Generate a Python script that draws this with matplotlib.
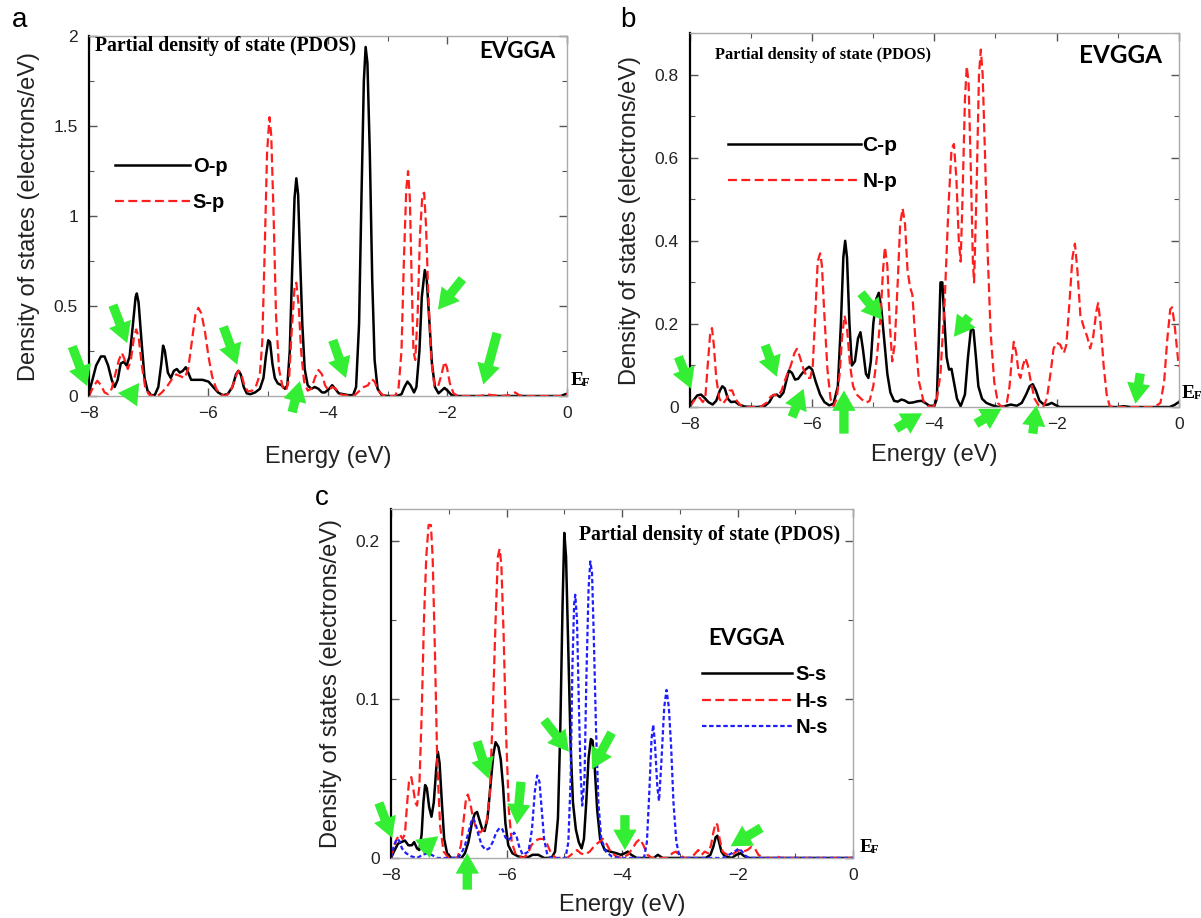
import numpy as np
import matplotlib
matplotlib.use("Agg")
import matplotlib.pyplot as plt
from matplotlib.ticker import MultipleLocator, FuncFormatter

plt.rcParams["font.family"] = ["Liberation Sans", "DejaVu Sans"]

# ---------------- panel a : O-p / S-p ----------------
a_op_e = [-8.00, -7.95, -7.88, -7.80, -7.74, -7.68, -7.62, -7.57, -7.52, -7.47, -7.42, -7.37, -7.32, -7.27,
          -7.22, -7.20, -7.17, -7.12, -7.07, -7.02, -6.96, -6.90, -6.84, -6.79, -6.76, -6.73, -6.68, -6.63,
          -6.58, -6.53, -6.48, -6.43, -6.38, -6.34, -6.29, -6.20, -6.10, -6.00, -5.92, -5.84, -5.76, -5.68,
          -5.60, -5.54, -5.50, -5.46, -5.41, -5.36, -5.30, -5.22, -5.14, -5.08, -5.04, -5.00, -4.97, -4.93,
          -4.89, -4.84, -4.78, -4.72, -4.68, -4.64, -4.60, -4.56, -4.53, -4.50, -4.47, -4.43, -4.39, -4.34,
          -4.28, -4.22, -4.16, -4.10, -4.05, -3.98, -3.93, -3.88, -3.82, -3.74, -3.66, -3.58, -3.53, -3.48,
          -3.44, -3.40, -3.37, -3.34, -3.30, -3.26, -3.22, -3.17, -3.10, -3.00, -2.85, -2.77, -2.72, -2.67,
          -2.62, -2.56, -2.52, -2.47, -2.43, -2.38, -2.35, -2.31, -2.26, -2.21, -2.15, -2.10, -2.05, -2.00,
          -1.93, -1.85, -1.00, -0.10, -0.03, 0.00]
a_op_d = [0.02, 0.08, 0.17, 0.22, 0.22, 0.17, 0.09, 0.05, 0.09, 0.18, 0.19, 0.17, 0.22, 0.38,
          0.55, 0.57, 0.52, 0.30, 0.10, 0.03, 0.005, 0.005, 0.05, 0.18, 0.28, 0.25, 0.13, 0.10,
          0.14, 0.15, 0.13, 0.14, 0.16, 0.13, 0.09, 0.09, 0.09, 0.08, 0.05, 0.02, 0.005, 0.01,
          0.05, 0.12, 0.14, 0.12, 0.05, 0.015, 0.01, 0.02, 0.04, 0.10, 0.22, 0.31, 0.30, 0.18,
          0.10, 0.07, 0.06, 0.04, 0.06, 0.25, 0.70, 1.10, 1.21, 1.12, 0.80, 0.40, 0.15, 0.06,
          0.04, 0.05, 0.04, 0.02, 0.02, 0.04, 0.06, 0.04, 0.015, 0.01, 0.005, 0.005, 0.05, 0.40,
          1.10, 1.75, 1.94, 1.85, 1.35, 0.65, 0.20, 0.04, 0.005, 0.0, 0.0, 0.01, 0.05, 0.08,
          0.06, 0.02, 0.05, 0.25, 0.55, 0.70, 0.66, 0.45, 0.18, 0.05, 0.015, 0.03, 0.045, 0.03,
          0.005, 0.0, 0.0, 0.0, 0.01, 0.012]
a_sp_e = [-8.00, -7.93, -7.86, -7.80, -7.74, -7.68, -7.62, -7.56, -7.50, -7.45, -7.40, -7.35, -7.30, -7.25,
          -7.21, -7.17, -7.12, -7.06, -7.00, -6.93, -6.85, -6.78, -6.70, -6.62, -6.54, -6.47, -6.40, -6.34,
          -6.28, -6.22, -6.17, -6.12, -6.06, -6.00, -5.94, -5.87, -5.80, -5.72, -5.64, -5.57, -5.52, -5.49,
          -5.45, -5.40, -5.34, -5.27, -5.20, -5.14, -5.10, -5.06, -5.02, -4.98, -4.95, -4.91, -4.87, -4.82,
          -4.76, -4.70, -4.65, -4.61, -4.56, -4.53, -4.49, -4.45, -4.40, -4.34, -4.28, -4.22, -4.16, -4.10,
          -4.05, -3.99, -3.93, -3.87, -3.80, -3.72, -3.62, -3.55, -3.47, -3.40, -3.33, -3.27, -3.22, -3.16,
          -3.08, -2.98, -2.88, -2.82, -2.77, -2.73, -2.69, -2.66, -2.63, -2.60, -2.57, -2.54, -2.50, -2.46,
          -2.42, -2.39, -2.36, -2.32, -2.27, -2.22, -2.16, -2.10, -2.05, -2.01, -1.96, -1.90, -1.82, -1.45,
          -1.35, -1.25, -1.10, -0.95, -0.87, -0.80, -0.70, -0.10, -0.03, 0.00]
a_sp_d = [0.0, 0.05, 0.085, 0.06, 0.02, 0.01, 0.04, 0.12, 0.20, 0.24, 0.20, 0.15, 0.20, 0.32,
          0.37, 0.33, 0.18, 0.05, 0.01, 0.0, 0.0, 0.02, 0.05, 0.09, 0.12, 0.11, 0.10, 0.15,
          0.30, 0.45, 0.49, 0.46, 0.36, 0.22, 0.11, 0.04, 0.01, 0.0, 0.02, 0.08, 0.13, 0.14,
          0.12, 0.06, 0.025, 0.03, 0.06, 0.12, 0.30, 0.80, 1.35, 1.55, 1.45, 1.00, 0.45, 0.15,
          0.05, 0.03, 0.10, 0.35, 0.60, 0.63, 0.50, 0.25, 0.08, 0.03, 0.04, 0.10, 0.145, 0.12,
          0.06, 0.03, 0.05, 0.04, 0.01, 0.005, 0.0, 0.005, 0.03, 0.05, 0.06, 0.095, 0.08, 0.03,
          0.005, 0.0, 0.0, 0.04, 0.25, 0.75, 1.15, 1.25, 1.10, 0.65, 0.25, 0.20, 0.45, 0.90,
          1.12, 1.13, 0.95, 0.55, 0.20, 0.06, 0.05, 0.12, 0.19, 0.16, 0.07, 0.015, 0.0, 0.0,
          0.01, 0.005, 0.0, 0.005, 0.02, 0.005, 0.0, 0.0, 0.01, 0.01]
a_arrows = [(-8.28, 0.275, -8.03, 0.055), (-7.60, 0.505, -7.36, 0.294), (-7.35, -0.018, -7.16, 0.073),
            (-5.75, 0.385, -5.52, 0.174), (-4.60, -0.09, -4.47, 0.083), (-3.92, 0.31, -3.70, 0.10),
            (-1.75, 0.65, -2.16, 0.48), (-1.17, 0.35, -1.40, 0.064)]

# ---------------- panel b : C-p / N-p ----------------
b_cp_e = [-8.00, -7.95, -7.88, -7.82, -7.76, -7.70, -7.63, -7.57, -7.51, -7.47, -7.43, -7.38, -7.33, -7.26,
          -7.20, -7.10, -6.90, -6.78, -6.70, -6.64, -6.58, -6.53, -6.47, -6.42, -6.38, -6.33, -6.28, -6.23,
          -6.17, -6.11, -6.05, -6.00, -5.94, -5.87, -5.80, -5.72, -5.65, -5.58, -5.53, -5.49, -5.46, -5.43,
          -5.39, -5.35, -5.30, -5.25, -5.21, -5.17, -5.12, -5.08, -5.04, -5.00, -4.95, -4.91, -4.87, -4.82,
          -4.77, -4.72, -4.66, -4.60, -4.54, -4.49, -4.42, -4.35, -4.27, -4.21, -4.15, -4.08, -4.00, -3.96,
          -3.93, -3.90, -3.87, -3.84, -3.80, -3.76, -3.72, -3.68, -3.63, -3.57, -3.50, -3.45, -3.40, -3.36,
          -3.32, -3.28, -3.22, -3.15, -3.05, -2.95, -2.85, -2.75, -2.65, -2.57, -2.50, -2.44, -2.39, -2.34,
          -2.28, -2.20, -2.14, -2.08, -2.02, -1.95, -1.00, -0.90, -0.80, -0.15, -0.07, 0.00]
b_cp_d = [0.005, 0.015, 0.028, 0.03, 0.022, 0.012, 0.006, 0.015, 0.04, 0.05, 0.045, 0.02, 0.012, 0.013,
          0.006, 0.001, 0.0, 0.002, 0.012, 0.028, 0.03, 0.024, 0.035, 0.065, 0.088, 0.082, 0.066, 0.068,
          0.08, 0.09, 0.097, 0.09, 0.06, 0.03, 0.012, 0.004, 0.008, 0.05, 0.20, 0.36, 0.40, 0.36,
          0.20, 0.10, 0.11, 0.165, 0.18, 0.14, 0.08, 0.07, 0.11, 0.20, 0.26, 0.275, 0.24, 0.16,
          0.08, 0.035, 0.015, 0.013, 0.018, 0.016, 0.01, 0.011, 0.014, 0.015, 0.01, 0.003, 0.003, 0.02,
          0.15, 0.30, 0.30, 0.22, 0.12, 0.09, 0.092, 0.06, 0.02, 0.002, 0.03, 0.12, 0.19, 0.185,
          0.12, 0.05, 0.02, 0.01, 0.004, 0.0, 0.002, 0.006, 0.003, 0.01, 0.03, 0.05, 0.055, 0.04,
          0.015, 0.005, 0.006, 0.01, 0.005, 0.0, 0.0, 0.002, 0.0, 0.0, 0.005, 0.012]
b_np_e = [-8.00, -7.95, -7.90, -7.84, -7.79, -7.75, -7.71, -7.67, -7.64, -7.61, -7.57, -7.52, -7.46, -7.40,
          -7.35, -7.31, -7.26, -7.18, -7.10, -6.85, -6.75, -6.68, -6.62, -6.56, -6.50, -6.42, -6.35, -6.29,
          -6.25, -6.20, -6.14, -6.08, -6.03, -5.99, -5.95, -5.91, -5.87, -5.84, -5.80, -5.75, -5.70, -5.65,
          -5.60, -5.55, -5.51, -5.47, -5.43, -5.38, -5.33, -5.27, -5.20, -5.12, -5.06, -5.00, -4.94, -4.88,
          -4.84, -4.81, -4.77, -4.73, -4.69, -4.65, -4.60, -4.56, -4.52, -4.48, -4.44, -4.40, -4.36, -4.31,
          -4.25, -4.18, -4.10, -4.03, -3.97, -3.90, -3.83, -3.77, -3.72, -3.68, -3.64, -3.60, -3.57, -3.54,
          -3.50, -3.47, -3.44, -3.40, -3.37, -3.35, -3.31, -3.27, -3.24, -3.21, -3.17, -3.13, -3.08, -3.02,
          -2.96, -2.90, -2.82, -2.77, -2.73, -2.70, -2.66, -2.62, -2.59, -2.55, -2.51, -2.47, -2.42, -2.36,
          -2.29, -2.22, -2.16, -2.10, -2.05, -2.00, -1.94, -1.88, -1.84, -1.79, -1.74, -1.70, -1.66, -1.61,
          -1.55, -1.50, -1.45, -1.40, -1.35, -1.32, -1.28, -1.23, -1.18, -1.13, -1.05, -0.40, -0.30, -0.24,
          -0.19, -0.14, -0.11, -0.07, -0.03, 0.00]
b_np_d = [0.0, 0.012, 0.022, 0.022, 0.012, 0.02, 0.10, 0.175, 0.19, 0.15, 0.07, 0.02, 0.008, 0.02,
          0.04, 0.04, 0.02, 0.005, 0.0, 0.0, 0.01, 0.025, 0.03, 0.026, 0.04, 0.075, 0.10, 0.13,
          0.14, 0.12, 0.09, 0.07, 0.07, 0.10, 0.22, 0.35, 0.37, 0.34, 0.22, 0.09, 0.02, 0.002,
          0.02, 0.08, 0.17, 0.22, 0.19, 0.10, 0.05, 0.03, 0.02, 0.01, 0.015, 0.05, 0.12, 0.22,
          0.33, 0.385, 0.34, 0.20, 0.11, 0.15, 0.30, 0.44, 0.478, 0.44, 0.33, 0.29, 0.27, 0.16,
          0.06, 0.015, 0.002, 0.0, 0.01, 0.08, 0.26, 0.48, 0.62, 0.633, 0.55, 0.40, 0.35, 0.50,
          0.74, 0.82, 0.78, 0.55, 0.35, 0.30, 0.52, 0.80, 0.86, 0.80, 0.60, 0.38, 0.18, 0.06,
          0.01, 0.0, 0.005, 0.05, 0.12, 0.157, 0.13, 0.08, 0.07, 0.10, 0.118, 0.10, 0.06, 0.02,
          0.003, 0.0, 0.02, 0.08, 0.14, 0.155, 0.15, 0.13, 0.15, 0.25, 0.36, 0.393, 0.33, 0.22,
          0.19, 0.17, 0.141, 0.17, 0.23, 0.25, 0.20, 0.10, 0.03, 0.002, 0.0, 0.0, 0.01, 0.06,
          0.16, 0.235, 0.24, 0.20, 0.14, 0.097]
b_arrows = [(-8.19, 0.121, -7.98, 0.044), (-6.77, 0.149, -6.58, 0.073), (-6.33, -0.024, -6.14, 0.044),
            (-5.48, -0.064, -5.48, 0.04), (-5.20, 0.274, -4.85, 0.21), (-3.43, 0.218, -3.68, 0.169),
            (-4.63, -0.052, -4.20, -0.015), (-3.32, -0.040, -2.90, -0.004), (-2.39, -0.064, -2.33, 0.004),
            (-0.63, 0.081, -0.71, 0.008)]

# ---------------- panel c : S-s / H-s / N-s ----------------
c_ss_e = [-8.00, -7.95, -7.88, -7.82, -7.76, -7.70, -7.64, -7.60, -7.55, -7.51, -7.47, -7.44, -7.41, -7.38,
          -7.34, -7.30, -7.26, -7.22, -7.19, -7.16, -7.12, -7.08, -7.03, -6.96, -6.78, -6.72, -6.66, -6.60,
          -6.55, -6.51, -6.47, -6.42, -6.38, -6.33, -6.28, -6.23, -6.19, -6.14, -6.10, -6.06, -6.02, -5.97,
          -5.90, -5.80, -5.65, -5.55, -5.45, -5.35, -5.22, -5.16, -5.11, -5.07, -5.03, -5.00, -4.97, -4.93,
          -4.89, -4.85, -4.80, -4.75, -4.70, -4.66, -4.62, -4.58, -4.54, -4.51, -4.47, -4.43, -4.38, -4.30,
          -4.20, -4.10, -4.02, -3.95, -3.90, -3.84, -3.75, -3.45, -3.38, -3.30, -2.55, -2.47, -2.42, -2.38,
          -2.35, -2.32, -2.28, -2.22, -2.10, -2.02, -1.95, -1.88, -1.80, 0.00]
c_ss_d = [0.0, 0.004, 0.009, 0.01, 0.011, 0.008, 0.008, 0.01, 0.006, 0.005, 0.015, 0.035, 0.046, 0.044,
          0.032, 0.026, 0.035, 0.055, 0.067, 0.06, 0.035, 0.012, 0.003, 0.0, 0.0, 0.003, 0.01, 0.022,
          0.028, 0.029, 0.024, 0.018, 0.017, 0.025, 0.045, 0.065, 0.073, 0.07, 0.062, 0.045, 0.022, 0.008,
          0.003, 0.001, 0.0, 0.002, 0.002, 0.0, 0.0, 0.004, 0.025, 0.08, 0.16, 0.205, 0.19, 0.13,
          0.07, 0.035, 0.018, 0.01, 0.006, 0.012, 0.035, 0.063, 0.075, 0.074, 0.055, 0.03, 0.012, 0.005,
          0.004, 0.003, 0.002, 0.003, 0.004, 0.002, 0.0, 0.0, 0.002, 0.0, 0.0, 0.002, 0.007, 0.013,
          0.014, 0.01, 0.004, 0.001, 0.0, 0.002, 0.003, 0.001, 0.0, 0.0]
c_hs_e = [-8.00, -7.95, -7.90, -7.85, -7.80, -7.76, -7.72, -7.69, -7.65, -7.62, -7.58, -7.55, -7.51, -7.47,
          -7.43, -7.39, -7.35, -7.31, -7.28, -7.24, -7.20, -7.15, -7.09, -7.00, -6.85, -6.79, -6.74, -6.70,
          -6.67, -6.63, -6.58, -6.52, -6.46, -6.40, -6.34, -6.29, -6.24, -6.19, -6.15, -6.12, -6.09, -6.05,
          -6.01, -5.96, -5.91, -5.84, -5.72, -5.64, -5.57, -5.50, -5.43, -5.36, -5.30, -5.23, -5.15, -4.95,
          -4.85, -4.78, -4.72, -4.65, -4.56, -4.47, -4.40, -4.33, -4.27, -4.20, -4.10, -4.00, -3.90, -3.82,
          -3.75, -3.69, -3.63, -3.56, -3.48, -3.20, -3.13, -3.07, -3.01, -2.92, -2.80, -2.73, -2.68, -2.62,
          -2.57, -2.51, -2.46, -2.42, -2.38, -2.35, -2.31, -2.26, -2.18, -2.10, -2.02, -1.96, -1.90, -1.83,
          -1.76, -1.70, -1.64, -1.55, -1.38, -1.32, -1.25, 0.00]
c_hs_d = [0.0, 0.007, 0.012, 0.015, 0.012, 0.015, 0.035, 0.048, 0.051, 0.045, 0.035, 0.033, 0.045, 0.09,
          0.15, 0.19, 0.21, 0.21, 0.19, 0.13, 0.06, 0.02, 0.004, 0.0, 0.0, 0.008, 0.025, 0.038,
          0.04, 0.035, 0.025, 0.018, 0.016, 0.018, 0.024, 0.04, 0.09, 0.15, 0.19, 0.195, 0.185, 0.14,
          0.08, 0.03, 0.01, 0.002, 0.0, 0.002, 0.008, 0.011, 0.012, 0.012, 0.009, 0.003, 0.0, 0.0,
          0.003, 0.005, 0.003, 0.002, 0.004, 0.008, 0.01, 0.012, 0.009, 0.004, 0.001, 0.0, 0.002, 0.006,
          0.01, 0.012, 0.008, 0.002, 0.0, 0.0, 0.003, 0.004, 0.002, 0.0, 0.0, 0.003, 0.005, 0.002,
          0.004, 0.003, 0.008, 0.016, 0.022, 0.021, 0.012, 0.004, 0.002, 0.002, 0.004, 0.005, 0.004, 0.005,
          0.007, 0.006, 0.002, 0.0, 0.0, 0.001, 0.0, 0.0]
c_ns_e = [-8.00, -7.95, -7.90, -7.86, -7.81, -7.74, -7.65, -7.55, -7.45, -7.37, -7.30, -7.20, -6.85, -6.78,
          -6.72, -6.66, -6.61, -6.58, -6.54, -6.49, -6.43, -6.36, -6.30, -6.24, -6.18, -6.12, -6.07, -6.02,
          -5.97, -5.92, -5.87, -5.83, -5.78, -5.72, -5.62, -5.56, -5.51, -5.47, -5.43, -5.39, -5.35, -5.30,
          -5.24, -4.98, -4.93, -4.89, -4.86, -4.83, -4.81, -4.78, -4.75, -4.72, -4.69, -4.65, -4.62, -4.58,
          -4.55, -4.52, -4.49, -4.45, -4.41, -4.36, -4.28, -4.18, -4.05, -3.62, -3.57, -3.53, -3.49, -3.46,
          -3.43, -3.39, -3.36, -3.32, -3.27, -3.23, -3.19, -3.15, -3.11, -3.06, -3.00, -2.25, -2.15, -2.05,
          -1.98, -1.92, -1.85, -1.78, 0.00]
c_ns_d = [0.0, 0.008, 0.012, 0.011, 0.006, 0.003, 0.001, 0.0, 0.002, 0.003, 0.002, 0.0, 0.0, 0.003,
          0.008, 0.016, 0.023, 0.025, 0.022, 0.015, 0.008, 0.005, 0.006, 0.01, 0.016, 0.019, 0.018, 0.013,
          0.011, 0.013, 0.016, 0.014, 0.007, 0.002, 0.004, 0.018, 0.042, 0.052, 0.048, 0.03, 0.012, 0.003,
          0.0, 0.0, 0.01, 0.05, 0.12, 0.16, 0.166, 0.15, 0.10, 0.055, 0.033, 0.05, 0.11, 0.17,
          0.187, 0.18, 0.14, 0.08, 0.035, 0.012, 0.004, 0.001, 0.0, 0.0, 0.01, 0.04, 0.075, 0.084,
          0.072, 0.045, 0.036, 0.06, 0.095, 0.106, 0.095, 0.07, 0.035, 0.01, 0.0, 0.0, 0.002, 0.004,
          0.006, 0.004, 0.001, 0.0, 0.0]
c_arrows = [(-8.21, 0.0347, -7.98, 0.0126), (-7.48, 0.005, -7.18, 0.0137), (-6.68, -0.020, -6.68, 0.003),
            (-6.51, 0.0735, -6.31, 0.050), (-5.75, 0.048, -5.82, 0.021), (-5.35, 0.087, -4.92, 0.067),
            (-4.18, 0.079, -4.52, 0.056), (-3.95, 0.027, -3.95, 0.005), (-1.59, 0.019, -2.12, 0.0074)]

RED = "#ff1e1e"
BLUE = "#1e1eff"
GREEN = "#33ee33"
SERIF = ["Liberation Serif", "DejaVu Serif"]
BOLD_SANS = ["Lato", "DejaVu Sans"]

# "%g" labels with a real minus sign
tick_fmt = FuncFormatter(lambda v, pos: ("%g" % v).replace("-", "\u2212"))


def style_axes(ax, ymax, ymajor, yminor, xlabelpad):
    ax.set_xlim(-8, 0)
    ax.set_ylim(0, ymax)
    ax.xaxis.set_major_locator(MultipleLocator(2))
    ax.xaxis.set_minor_locator(MultipleLocator(1))
    ax.yaxis.set_major_locator(MultipleLocator(ymajor))
    ax.yaxis.set_minor_locator(MultipleLocator(yminor))
    ax.xaxis.set_major_formatter(tick_fmt)
    ax.yaxis.set_major_formatter(tick_fmt)
    ax.tick_params(which="both", direction="in", top=True, right=True, colors="#555555",
                   labelcolor="#222222", labelsize=12.5)
    ax.tick_params(axis="x", which="major", pad=7.5)
    ax.tick_params(axis="y", which="major", pad=8)
    ax.tick_params(which="major", length=6, width=1)
    ax.tick_params(which="minor", length=3.5, width=0.8)
    for side in ["top", "right", "bottom"]:
        ax.spines[side].set_color("#aaaaaa")
        ax.spines[side].set_linewidth(1)
    ax.spines["left"].set_color("black")
    ax.spines["left"].set_linewidth(1.6)
    ax.set_xlabel("Energy (eV)", fontsize=17, color="#222222", labelpad=xlabelpad)
    ax.set_ylabel("Density of states (electrons/eV)", fontsize=17, color="#222222", labelpad=10)


def draw_arrows(ax, arrows):
    for tx, ty, hx, hy in arrows:
        ax.annotate("", xy=(hx, hy), xytext=(tx, ty), annotation_clip=False,
                    arrowprops=dict(arrowstyle="simple,head_length=0.7,head_width=0.8,tail_width=0.32",
                                    color=GREEN, mutation_scale=21, shrinkA=0, shrinkB=0, lw=0))


def ef_label(ax, x, y):
    ax.text(x, y, "E", transform=ax.transAxes, fontsize=14, fontweight="bold",
            family=SERIF, ha="left", va="center")
    ax.text(x + 0.024, y - 0.008, "F", transform=ax.transAxes, fontsize=9, fontweight="bold",
            family=SERIF, ha="left", va="center")


fig = plt.figure(figsize=(12.01, 9.18), dpi=100)

# panel a
ax_a = fig.add_axes([0.0741, 0.5686, 0.398, 0.392])
ax_a.plot(a_op_e, a_op_d, color="black", lw=1.8, label="O-p")
ax_a.plot(a_sp_e, a_sp_d, color=RED, lw=1.6, dashes=(4, 2), label="S-p")
style_axes(ax_a, 2.0, 0.5, 0.25, 18)
ax_a.text(0.013, 0.972, "Partial density of state (PDOS)", transform=ax_a.transAxes,
          fontsize=14.2, fontweight="bold", family=SERIF, ha="left", va="center")
ax_a.text(0.975, 0.958, "EVGGA", transform=ax_a.transAxes, fontsize=16, fontweight="bold",
          family=BOLD_SANS, ha="right", va="center")
ax_a.legend(loc="upper left", bbox_to_anchor=(0.055, 0.665), frameon=False, borderpad=0,
            borderaxespad=0, handlelength=3.7, handletextpad=0.15, labelspacing=0.84,
            prop=dict(size=14.5, weight="bold"))
ef_label(ax_a, 1.008, 0.044)
draw_arrows(ax_a, a_arrows)
fig.text(0.010, 0.978, "a", fontsize=20, va="center", ha="left")

# panel b
ax_b = fig.add_axes([0.5745, 0.5566, 0.407, 0.4074])
ax_b.plot(b_cp_e, b_cp_d, color="black", lw=1.8, label="C-p")
ax_b.plot(b_np_e, b_np_d, color=RED, lw=1.6, dashes=(4, 2), label="N-p")
style_axes(ax_b, 0.9, 0.2, 0.1, 8)
ax_b.text(0.051, 0.941, "Partial density of state (PDOS)", transform=ax_b.transAxes,
          fontsize=11.8, fontweight="bold", family=SERIF, ha="left", va="center")
ax_b.text(0.965, 0.941, "EVGGA", transform=ax_b.transAxes, fontsize=17.5, fontweight="bold",
          family=BOLD_SANS, ha="right", va="center")
ax_b.legend(loc="upper left", bbox_to_anchor=(0.078, 0.724), frameon=False, borderpad=0,
            borderaxespad=0, handlelength=6.4, handletextpad=0.05, labelspacing=0.82,
            prop=dict(size=15, weight="bold"))
ef_label(ax_b, 1.006, 0.037)
draw_arrows(ax_b, b_arrows)
fig.text(0.516, 0.978, "b", fontsize=20, va="center", ha="left")

# panel c
ax_c = fig.add_axes([0.3256, 0.0654, 0.3847, 0.380])
ax_c.plot(c_ss_e, c_ss_d, color="black", lw=1.8, label="S-s")
ax_c.plot(c_hs_e, c_hs_d, color=RED, lw=1.6, dashes=(4, 2), label="H-s")
ax_c.plot(c_ns_e, c_ns_d, color=BLUE, lw=1.6, dashes=(2, 1.2), label="N-s")
style_axes(ax_c, 0.22, 0.1, 0.05, 8)
ax_c.text(0.407, 0.925, "Partial density of state (PDOS)", transform=ax_c.transAxes,
          fontsize=14.2, fontweight="bold", family=SERIF, ha="left", va="center")
ax_c.text(0.686, 0.63, "EVGGA", transform=ax_c.transAxes, fontsize=16, fontweight="bold",
          family=BOLD_SANS, ha="left", va="center")
ax_c.legend(loc="upper left", bbox_to_anchor=(0.672, 0.552), frameon=False, borderpad=0,
            borderaxespad=0, handlelength=4.5, handletextpad=0.15, labelspacing=0.37,
            prop=dict(size=14.5, weight="bold"))
ef_label(ax_c, 1.015, 0.03)
draw_arrows(ax_c, c_arrows)
fig.text(0.262, 0.457, "c", fontsize=20, va="center", ha="left")

fig.savefig("out.png", dpi=100)
